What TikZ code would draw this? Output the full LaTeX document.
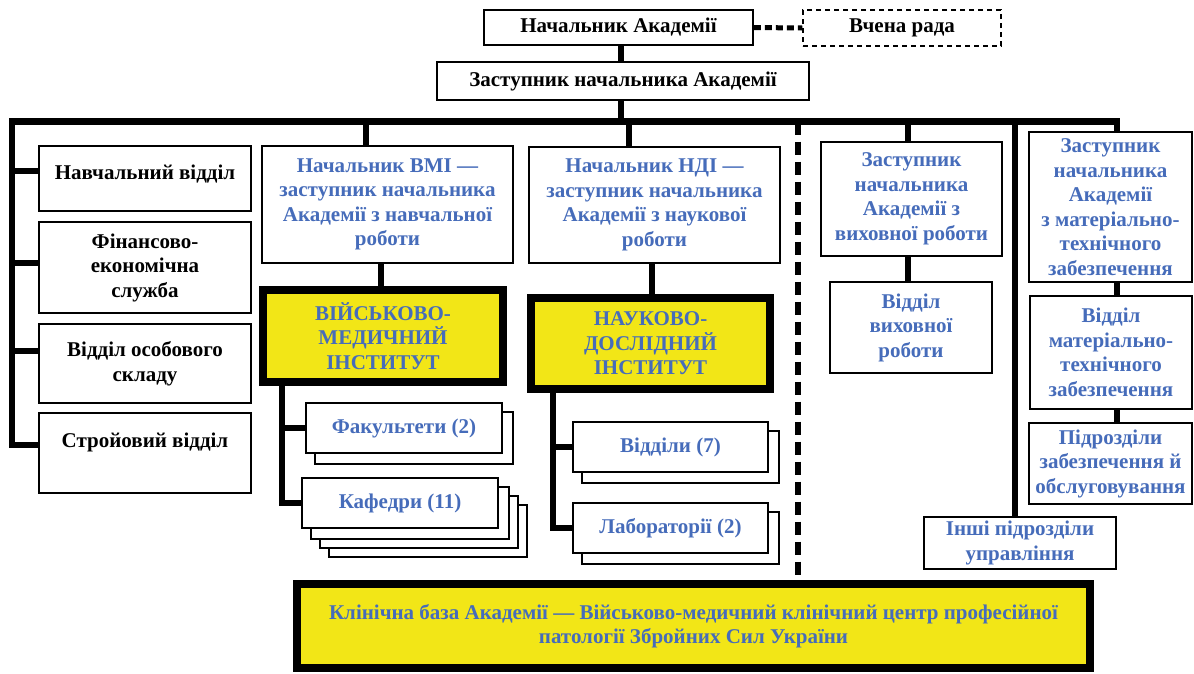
\documentclass[tikz,border=0pt]{standalone}
\usepackage{fontspec}
\setmainfont{Liberation Serif}
\usetikzlibrary{backgrounds}
\definecolor{tblue}{RGB}{70,108,186}
\definecolor{tyellow}{RGB}{242,230,23}
\tikzset{
  base/.style={draw=black, fill=white, line width=1.8pt, inner sep=0pt, align=center,
    font=\fontsize{21}{24.5}\selectfont\bfseries},
  blackbox/.style={base, text=black},
  bluebox/.style={base, text=tblue},
  instbox/.style={base, line width=8pt, fill=tyellow, text=tblue},
  councilbox/.style={base, text=black, line width=1.5pt, dash pattern=on 5pt off 4pt},
  conn/.style={line width=6.5pt, line join=miter},
  dashconn/.style={line width=6pt, dash pattern=on 13pt off 7pt},
  dotconn/.style={line width=5pt, dash pattern=on 7pt off 4pt},
  shadowbox/.style={draw=black, fill=white, line width=1.8pt},
}
\begin{document}
\begin{tikzpicture}[x=1pt, y=-1pt]
\useasboundingbox (0,0) rectangle (1194,673);

% top
\node[blackbox, minimum width=269pt, minimum height=35pt] (nach) at (618.5,27.5) {Начальник Академії};
\node[councilbox, minimum width=198pt, minimum height=36pt] (vchena) at (902,28) {Вчена рада};
\node[blackbox, minimum width=372pt, minimum height=38pt] (zast) at (623,81) {Заступник начальника Академії};

% left column
\node[blackbox, minimum width=212pt, minimum height=65pt, text depth=12pt] (nav) at (145,178.5) {Навчальний відділ};
\node[blackbox, minimum width=212pt, minimum height=91pt] (fin) at (145,267.5) {Фінансово-\\економічна\\служба};
\node[blackbox, minimum width=212pt, minimum height=79pt] (os) at (145,363.5) {Відділ особового\\складу};
\node[blackbox, minimum width=212pt, minimum height=80pt, text depth=25pt] (str) at (145,453) {Стройовий відділ};

% VMI branch
\node[bluebox, minimum width=251pt, minimum height=117pt] (bmi) at (387.5,204.5) {Начальник ВМІ —\\заступник начальника\\Академії з навчальної\\роботи};
\node[instbox, minimum width=240pt, minimum height=92pt] (vmi) at (383,336) {ВІЙСЬКОВО-\\МЕДИЧНИЙ\\ІНСТИТУТ};
\node[bluebox, minimum width=196pt, minimum height=50pt] (fak) at (404,428) {Факультети (2)};
\node[bluebox, minimum width=196pt, minimum height=50pt] (kaf) at (400,503) {Кафедри (11)};

% NDI branch
\node[bluebox, minimum width=251pt, minimum height=116pt] (ndi) at (654.5,205) {Начальник НДІ —\\заступник начальника\\Академії з наукової\\роботи};
\node[instbox, minimum width=239pt, minimum height=91pt] (nii) at (650.5,343.5) {НАУКОВО-\\ДОСЛІДНИЙ\\ІНСТИТУТ};
\node[bluebox, minimum width=195pt, minimum height=50pt] (vid) at (670.5,447) {Відділи (7)};
\node[bluebox, minimum width=195pt, minimum height=50pt] (lab) at (670.5,528) {Лабораторії (2)};

% right part
\node[bluebox, minimum width=181pt, minimum height=114pt] (vykh) at (911.5,199) {Заступник\\начальника\\Академії з\\виховної роботи};
\node[bluebox, minimum width=162pt, minimum height=91pt] (vvr) at (911,327.5) {Відділ\\виховної\\роботи};
\node[bluebox, minimum width=192pt, minimum height=52pt] (inshi) at (1020,543) {Інші підрозділи\\управління};
\node[bluebox, minimum width=163pt, minimum height=150pt] (mtz) at (1110.5,207) {Заступник\\начальника\\Академії\\з матеріально-\\технічного\\забезпечення};
\node[bluebox, minimum width=162pt, minimum height=113pt] (vmtz) at (1111,352.5) {Відділ\\матеріально-\\технічного\\забезпечення};
\node[bluebox, minimum width=163pt, minimum height=81pt] (pidr) at (1110.5,463.5) {Підрозділи\\забезпечення й\\обслуговування};

% bottom
\node[instbox, minimum width=793pt, minimum height=84pt] (klin) at (693.5,626) {Клінічна база Академії — Військово-медичний клінічний центр професійної\\патології Збройних Сил України};

% shadows
\begin{scope}[on background layer]
  \fill[white] (0,0) rectangle (1194,673);
  \foreach \s in {28,19,10}
    \draw[shadowbox] ([shift={(\s,\s)}]kaf.south west) rectangle ([shift={(\s,\s)}]kaf.north east);
  \draw[shadowbox] ([shift={(10,10)}]fak.south west) rectangle ([shift={(10,10)}]fak.north east);
  \draw[shadowbox] ([shift={(10,10)}]vid.south west) rectangle ([shift={(10,10)}]vid.north east);
  \draw[shadowbox] ([shift={(10,10)}]lab.south west) rectangle ([shift={(10,10)}]lab.north east);
\end{scope}

% coordinates for connectors
\coordinate (barL) at (12,121.5);
\coordinate (barR) at (1117,121.5);
\coordinate (b1) at (12,171);
\coordinate (b2) at (12,263);
\coordinate (b3) at (12,351);
\coordinate (b4) at (12,445);
\coordinate (xTop) at (621,0);
\coordinate (xBmi) at (366,0);
\coordinate (xBmiL) at (381,0);
\coordinate (xVmi) at (282,0);
\coordinate (xNdi) at (629,0);
\coordinate (xNdiL) at (652,0);
\coordinate (xNii) at (553,0);
\coordinate (xDash) at (798,0);
\coordinate (xVykh) at (908,0);
\coordinate (xLong) at (1015,0);

% connectors
\draw[dotconn] (nach.east) -- (vchena.west);
\draw[conn] (nach.south -| xTop) -- (zast.north -| xTop);
\draw[conn] (zast.south -| xTop) -- (xTop |- barL);
\draw[conn] (b4 -| str.west) -- (b4) -- (barL) -- (barR) -- (barR |- mtz.north);
\draw[conn] (b1) -- (b1 -| nav.west);
\draw[conn] (b2) -- (b2 -| fin.west);
\draw[conn] (b3) -- (b3 -| os.west);

\draw[conn] (xBmi |- barL) -- (bmi.north -| xBmi);
\draw[conn] (bmi.south -| xBmiL) -- (vmi.north -| xBmiL);
\draw[conn] (vmi.south -| xVmi) -- (xVmi |- kaf.west) -- (kaf.west);
\draw[conn] (xVmi |- fak.west) -- (fak.west);

\draw[conn] (xNdi |- barL) -- (ndi.north -| xNdi);
\draw[conn] (ndi.south -| xNdiL) -- (nii.north -| xNdiL);
\draw[conn] (nii.south -| xNii) -- (xNii |- lab.west) -- (lab.west);
\draw[conn] (xNii |- vid.west) -- (vid.west);

\draw[dashconn] (xDash |- barL) -- (klin.north -| xDash);

\draw[conn] (xVykh |- barL) -- (vykh.north -| xVykh);
\draw[conn] (vykh.south -| xVykh) -- (vvr.north -| xVykh);
\draw[conn] (xLong |- barL) -- (inshi.north -| xLong);

\draw[conn] (mtz.south -| barR) -- (vmtz.north -| barR);
\draw[conn] (vmtz.south -| barR) -- (pidr.north -| barR);
\end{tikzpicture}
\end{document}
